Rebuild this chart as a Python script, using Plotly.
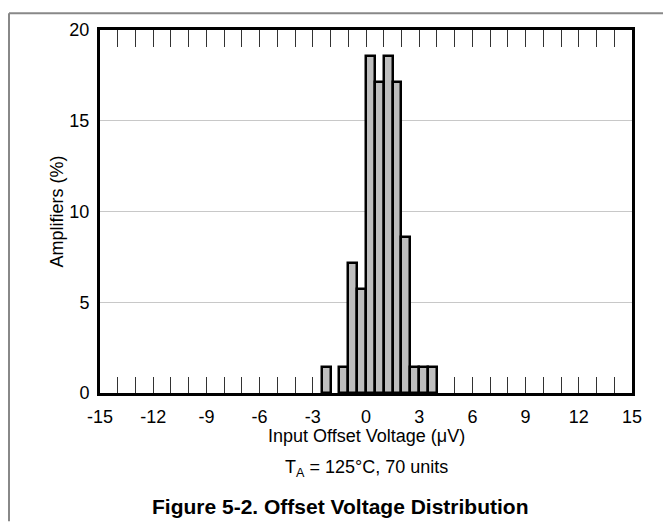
import plotly.graph_objects as go

# Histogram bins (left edge, µV) and percentage of amplifiers (70 units)
bin_left = [-2.5, -1.5, -1.0, -0.5, 0.0, 0.5, 1.0, 1.5, 2.0, 2.5, 3.0, 3.5]
percent = [1.43, 1.43, 7.14, 5.71, 18.57, 17.14, 18.57, 17.14, 8.57, 1.43, 1.43, 1.43]
bin_width = 0.5

x_tick_vals = list(range(-15, 16))
x_tick_labels = [str(v) if v % 3 == 0 else "" for v in x_tick_vals]
y_tick_vals = [0, 5, 10, 15, 20]

FONT = "Liberation Sans, Arial, sans-serif"

centers = [b + bin_width / 2 for b in bin_left]

# figure coordinates (page is offset by the 8px body margin)
L, R, T, B = 92, 39, 17, 130
W, H = 663, 515
PW, PH = W - L - R, H - T - B

fig = go.Figure()
fig.add_trace(go.Bar(
    x=centers, y=percent, width=bin_width,
    marker=dict(color="#bebebe", line=dict(color="black", width=2.5)),
    xaxis="x", yaxis="y", showlegend=False, hoverinfo="skip",
))
fig.add_trace(go.Scatter(x=[-15, 15], y=[0, 0], mode="markers",
                         marker=dict(opacity=0), xaxis="x2", yaxis="y",
                         showlegend=False, hoverinfo="skip"))

fig.update_layout(
    width=W, height=H,
    margin=dict(l=L, r=R, t=T, b=B, pad=0),
    paper_bgcolor="white", plot_bgcolor="white",
    font=dict(family=FONT, size=18, color="black"),
    bargap=0,
    xaxis=dict(
        range=[-15, 15], tickvals=x_tick_vals, ticktext=x_tick_labels,
        ticks="inside", ticklen=16, tickwidth=1, tickcolor="#333",
        showgrid=False, zeroline=False,
        showline=True, linecolor="black", linewidth=3, mirror=True,
        layer="below traces", tickfont=dict(size=18), ticklabelstandoff=5,
    ),
    xaxis2=dict(
        range=[-15, 15], overlaying="x", side="top",
        tickvals=x_tick_vals, showticklabels=False,
        ticks="inside", ticklen=17, tickwidth=1, tickcolor="#333",
        showgrid=False, zeroline=False, showline=False,
        layer="below traces",
    ),
    yaxis=dict(
        range=[0, 20], tickvals=y_tick_vals, ticks="",
        showgrid=True, gridcolor="#c8c8c8", gridwidth=1,
        zeroline=False,
        showline=True, linecolor="black", linewidth=3, mirror=True,
        layer="below traces", tickfont=dict(size=18), ticklabelstandoff=4,
    ),
    shapes=[
        dict(type="line", xref="paper", yref="paper", x0=(1 - L) / PW, x1=(W - L) / PW,
             y0=1 + (T - 0) / PH, y1=1 + (T - 0) / PH, line=dict(color="#888", width=2)),
        dict(type="line", xref="paper", yref="paper", x0=(1 - L) / PW, x1=(1 - L) / PW,
             y0=1 + (T - 0) / PH, y1=-B / PH, line=dict(color="#888", width=2)),
    ],
    annotations=[
        dict(text="Amplifiers (%)", textangle=-90, xref="paper", yref="paper",
             x=(36 - L) / PW, y=0.5, showarrow=False, font=dict(size=18)),
        dict(text="Input Offset Voltage (\u03bcV)", xref="paper", yref="paper",
             x=0.5, y=-44 / PH, yanchor="middle", showarrow=False,
             font=dict(size=18)),
        dict(text="T<sub>A</sub> = 125\u00b0C, 70 units", xref="paper", yref="paper",
             x=0.5, y=-77 / PH, yanchor="middle", showarrow=False,
             font=dict(size=18)),
        dict(text="<b>Figure 5-2. Offset Voltage Distribution</b>", xref="paper", yref="paper",
             x=240 / PW, y=-115 / PH, yanchor="middle", showarrow=False,
             font=dict(size=21)),
    ],
)

fig.write_html("out.html")
